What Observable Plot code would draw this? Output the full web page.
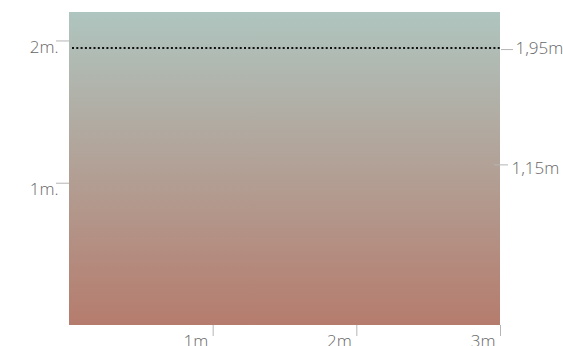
<!DOCTYPE html>
<html><head><meta charset="utf-8">
<script src="https://cdn.jsdelivr.net/npm/d3@7"></script>
<script src="https://cdn.jsdelivr.net/npm/@observablehq/plot@0.6"></script>
<style>
body{margin:0;background:#fff;overflow:hidden}
svg{overflow:visible}
[aria-label$="tick"] path{stroke:#b5b5b5}
</style></head><body><div id="chart"></div>
<script>
// data
const xDomain = [0, 3];
const yDomain = [0, 2.2];
const xTicks = [1, 2, 3];
const leftTicks = [1, 2];
const refLine = [1.95];
const rightTickA = [1.95];
const rightTickB = [1.15];
const topColor = "#afc5bf";
const bottomColor = "#b57c6d";

const area = [{x1: xDomain[0], x2: xDomain[1], y1: yDomain[0], y2: yDomain[1]}];
const rightFmt = d => d.toFixed(2).replace(".", ",") + "m";
const noText = () => "";
const txt = {fill: "#666", fontSize: 17, fontWeight: 300};

const svg = Plot.plot({
  width: 563,
  height: 346,
  marginTop: 12,
  marginBottom: 21,
  marginLeft: 69,
  marginRight: 63,
  style: {fontSize: "17px", fontFamily: "'Open Sans', Lato, sans-serif"},
  x: {domain: xDomain, axis: null},
  y: {domain: yDomain, axis: null},
  marks: [
    Plot.rect(area, {x1: "x1", x2: "x2", y1: "y1", y2: "y2", fill: "url(#bggrad)"}),
    Plot.ruleY(refLine, {x1: xDomain[0], x2: xDomain[1], stroke: "#111", strokeWidth: 2, strokeDasharray: "2,2.3", insetLeft: 3}),
    // ticks
    Plot.axisY(leftTicks, {anchor: "left", tickSize: 13, tickFormat: noText, stroke: "#b5b5b5"}),
    Plot.axisY(rightTickA, {anchor: "right", tickSize: 12, dy: 1.5, tickFormat: noText, stroke: "#b5b5b5"}),
    Plot.axisY(rightTickB, {anchor: "right", tickSize: 14, dx: -7, dy: 3, tickFormat: noText, stroke: "#b5b5b5"}),
    Plot.axisX(xTicks, {anchor: "bottom", tickSize: 11, tickFormat: noText, stroke: "#b5b5b5"}),
    // labels
    Plot.text(leftTicks, {y: d => d, text: d => d + "m.", frameAnchor: "left", textAnchor: "end", dx: -11, dy: 6.5, ...txt}),
    Plot.text(rightTickA, {y: d => d, text: rightFmt, frameAnchor: "right", textAnchor: "start", dx: 15, dy: 0, ...txt}),
    Plot.text(rightTickB, {y: d => d, text: rightFmt, frameAnchor: "right", textAnchor: "start", dx: 11, dy: 7, ...txt}),
    Plot.text(xTicks, {x: d => d, text: d => d + "m", frameAnchor: "bottom", textAnchor: "end", lineAnchor: "top", dx: -5, dy: 9, ...txt})
  ]
});

const defs = d3.select(svg).insert("defs", ":first-child");
const g = defs.append("linearGradient").attr("id", "bggrad").attr("x1", 0).attr("y1", 0).attr("x2", 0).attr("y2", 1);
g.append("stop").attr("offset", "0%").attr("stop-color", topColor);
g.append("stop").attr("offset", "100%").attr("stop-color", bottomColor);

document.getElementById("chart").appendChild(svg);
</script>
</body></html>
